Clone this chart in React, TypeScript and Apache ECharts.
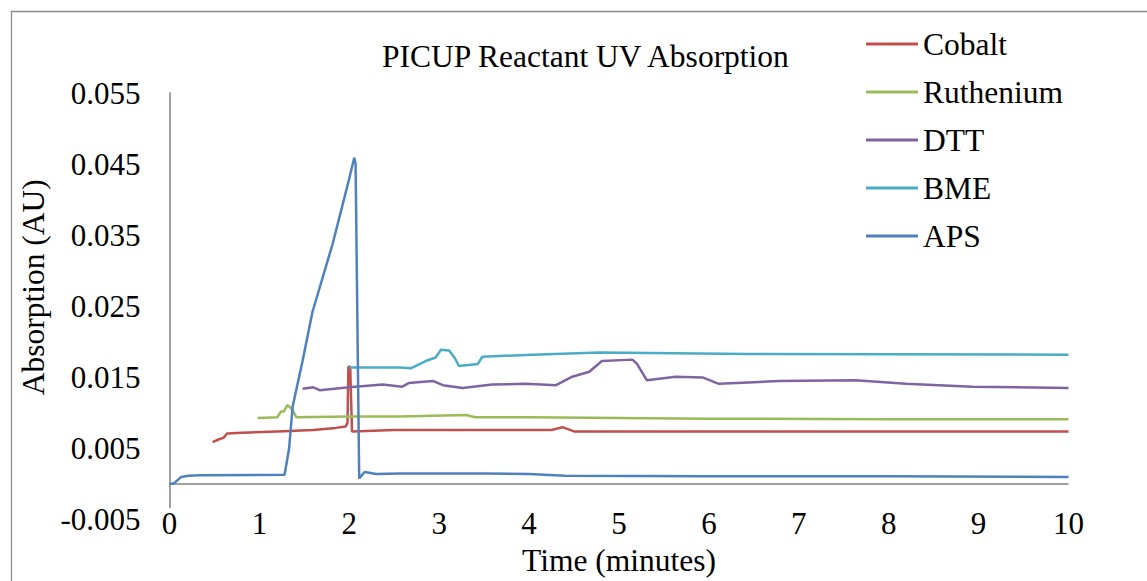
import React, { useEffect, useRef } from "react";
import * as echarts from "echarts";

const seriesNames = ["Cobalt", "Ruthenium", "DTT", "BME", "APS"];
const seriesColors = ["#C0504D", "#9BBB59", "#8064A2", "#4BACC6", "#4F81BD"];

const xTicks = [0, 1, 2, 3, 4, 5, 6, 7, 8, 9, 10];

const cobaltT = [0.48, 0.55, 0.6, 0.64, 0.8, 1.2, 1.6, 1.85, 1.96, 1.98, 1.99, 2.01, 2.03, 2.5, 3.0, 4.25, 4.37, 4.5, 6.0, 8.0, 10.0];
const cobaltV = [0.0059, 0.0063, 0.0065, 0.0071, 0.0072, 0.0074, 0.0076, 0.0079, 0.0081, 0.0086, 0.0165, 0.0165, 0.0074, 0.0076, 0.0076, 0.0076, 0.008, 0.0074, 0.0074, 0.0074, 0.0074];

const rutheniumT = [0.98, 1.2, 1.24, 1.27, 1.31, 1.34, 1.37, 1.41, 2.0, 2.56, 3.3, 3.4, 4.0, 6.0, 8.0, 10.0];
const rutheniumV = [0.0093, 0.0094, 0.0102, 0.0102, 0.0111, 0.0108, 0.0104, 0.0094, 0.0095, 0.0095, 0.0097, 0.0094, 0.0094, 0.0092, 0.0091, 0.0091];

const dttT = [1.48, 1.6, 1.67, 2.0, 2.37, 2.59, 2.66, 2.93, 3.04, 3.26, 3.59, 3.96, 4.3, 4.48, 4.67, 4.81, 5.15, 5.2, 5.31, 5.63, 5.93, 6.11, 6.44, 6.78, 7.63, 8.19, 8.93, 10.0];
const dttV = [0.0134, 0.0136, 0.0132, 0.0136, 0.014, 0.0137, 0.0142, 0.0145, 0.0139, 0.0135, 0.014, 0.0141, 0.0139, 0.0151, 0.0158, 0.0173, 0.0175, 0.0169, 0.0146, 0.0151, 0.015, 0.0141, 0.0143, 0.0145, 0.0146, 0.0141, 0.0137, 0.0135];

const bmeT = [2.0, 2.12, 2.56, 2.69, 2.85, 2.96, 3.02, 3.11, 3.17, 3.22, 3.43, 3.48, 4.04, 4.78, 6.44, 10.0];
const bmeV = [0.0164, 0.0164, 0.0164, 0.0163, 0.0173, 0.0178, 0.0189, 0.0188, 0.0178, 0.0166, 0.0169, 0.0179, 0.0182, 0.0185, 0.0183, 0.0182];

const apsT = [0, 0.05, 0.13, 0.21, 0.34, 1.28, 1.33, 1.37, 1.48, 1.59, 1.815, 2.0, 2.055, 2.07, 2.11, 2.17, 2.3, 2.56, 3.5, 4.0, 4.4, 6.0, 8.0, 10.0];
const apsV = [0, 0.0001, 0.001, 0.00116, 0.00125, 0.0013, 0.005, 0.0109, 0.0173, 0.0242, 0.0338, 0.043, 0.0459, 0.045, 0.0008, 0.0017, 0.0014, 0.0015, 0.0015, 0.0014, 0.00116, 0.0011, 0.0011, 0.001];

const seriesTimes = [cobaltT, rutheniumT, dttT, bmeT, apsT];
const seriesValues = [cobaltV, rutheniumV, dttV, bmeV, apsV];

const FONT = "Liberation Serif, Times New Roman, serif";

export default function App() {
  const ref = useRef<HTMLDivElement>(null);
  useEffect(() => {
    if (!ref.current) return;
    const chart = echarts.init(ref.current, undefined, { renderer: "svg" });
    const series = seriesNames.map((name, i) => {
      const s: any = {
        name,
        type: "line",
        data: seriesTimes[i].map((t, j) => [t, seriesValues[i][j]]),
        showSymbol: false,
        symbol: "none",
        lineStyle: { color: seriesColors[i], width: 2.5 },
        itemStyle: { color: seriesColors[i] },
        z: 2 + i,
      };
      if (i === 0) {
        s.markLine = {
          silent: true,
          symbol: ["none", "none"],
          label: { show: false },
          lineStyle: { color: "#A0A0A0", width: 2, type: "solid" },
          data: [{ yAxis: 0 }],
        };
      }
      return s;
    });
    chart.setOption({
      animation: false,
      backgroundColor: "#ffffff",
      textStyle: { fontFamily: FONT },
      title: {
        text: "PICUP Reactant UV Absorption",
        left: 382,
        top: 41,
        padding: 0,
        textStyle: { fontFamily: FONT, fontSize: 31.5, fontWeight: "normal", color: "#000", lineHeight: 31 },
      },
      legend: {
        orient: "vertical",
        left: 866,
        top: 28,
        padding: 0,
        icon: "rect",
        itemWidth: 52,
        itemHeight: 3,
        itemGap: 16,
        textStyle: { fontFamily: FONT, fontSize: 31.5, color: "#000", lineHeight: 31 },
        data: seriesNames,
      },
      grid: { left: 169.5, right: 78.5, top: 93, bottom: 52.3, containLabel: false },
      xAxis: {
        type: "value",
        min: 0,
        max: 10,
        interval: 1,
        z: 5,
        name: "Time (minutes)",
        nameLocation: "middle",
        nameGap: 35,
        nameTextStyle: { fontFamily: FONT, fontSize: 31.5, color: "#000", verticalAlign: "middle" },
        axisLine: { show: false, onZero: false },
        axisTick: { show: false },
        splitLine: { show: false },
        axisLabel: {
          fontFamily: FONT,
          fontSize: 31,
          color: "#000",
          margin: 4,
          verticalAlign: "middle",
          backgroundColor: "#ffffff",
          formatter: (v: number) => String(xTicks.indexOf(Math.round(v)) >= 0 ? Math.round(v) : v),
        },
      },
      yAxis: {
        type: "value",
        min: -0.005,
        max: 0.055,
        interval: 0.01,
        name: "Absorption (AU)",
        nameLocation: "middle",
        nameRotate: 90,
        nameGap: 128,
        nameTextStyle: {
          fontFamily: "serif",
          fontStyle: "normal",
          fontWeight: "normal",
          fontSize: 31.5,
          color: "#000",
          verticalAlign: "middle",
          padding: [0, 0, 0, 38],
        },
        axisLine: { show: true, lineStyle: { color: "#A0A0A0", width: 2 } },
        axisTick: { show: false },
        splitLine: { show: false },
        axisLabel: {
          fontFamily: "serif",
          fontStyle: "normal",
          fontWeight: "normal",
          fontSize: 31,
          color: "#000",
          margin: 29,
          formatter: (v: number) => v.toFixed(3),
        },
      },
      graphic: [
        {
          type: "rect",
          shape: { x: 11.5, y: 11.5, width: 1300, height: 800 },
          style: { fill: "none", stroke: "#8c8c8c", lineWidth: 1.3 },
          silent: true,
        },
      ],
      series,
    });
    return () => chart.dispose();
  }, []);
  return (
    <div
      ref={ref}
      style={{ position: "absolute", left: 0, top: 0, width: 1147, height: 581 }}
    />
  );
}
